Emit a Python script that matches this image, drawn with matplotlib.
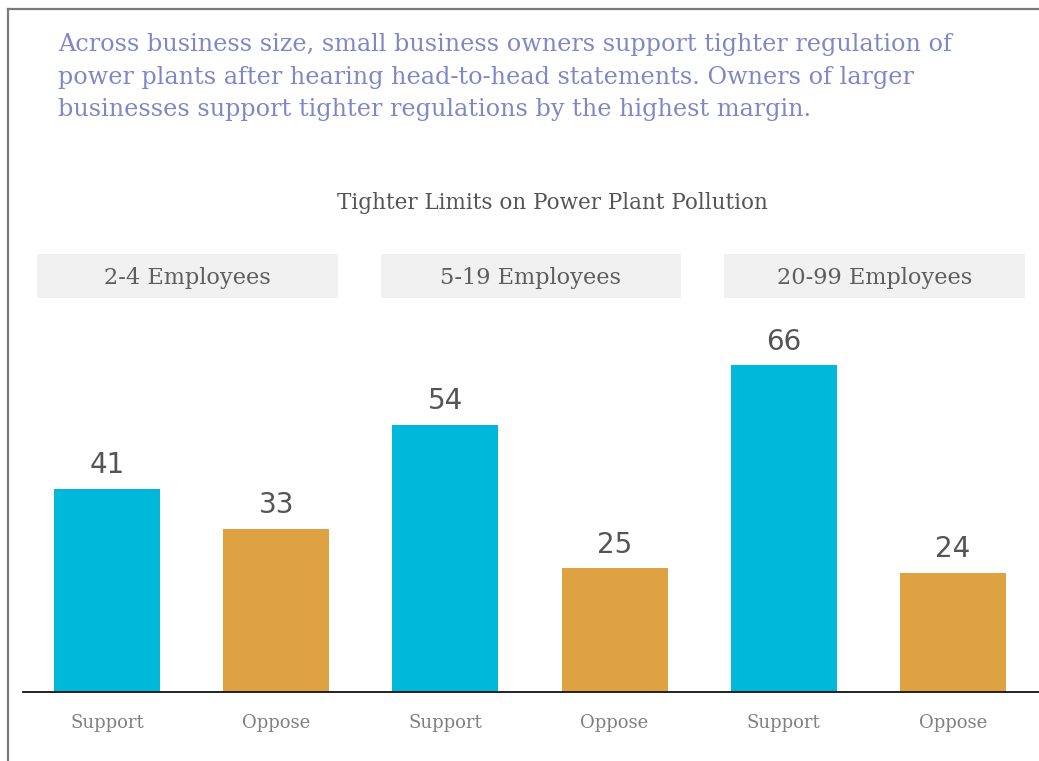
import matplotlib.pyplot as plt
from matplotlib.lines import Line2D
from matplotlib.patches import Rectangle

# 数据
groups = ['2-4 Employees', '5-19 Employees', '20-99 Employees']
answers = ['Support', 'Oppose']
support = [41, 54, 66]
oppose = [33, 25, 24]

headline = ('Across business size, small business owners support tighter regulation of\n'
            'power plants after hearing head-to-head statements. Owners of larger\n'
            'businesses support tighter regulations by the highest margin.')
chart_title = 'Tighter Limits on Power Plant Pollution'

blue = '#00b9da'
gold = '#dea243'
serif = ['DejaVu Serif']

W, H = 1039, 761
fig = plt.figure(figsize=(W / 100, H / 100), dpi=100)

# 外框（左边和上边）
fig.add_artist(Line2D([8 / W, 8 / W], [0, 1 - 9 / H], color='#7a7a7a', lw=1.6))
fig.add_artist(Line2D([8 / W, 1], [1 - 9 / H, 1 - 9 / H], color='#7a7a7a', lw=1.6))

fig.text(58 / W, 1 - 33 / H, headline, ha='left', va='top', family=serif,
         fontsize=17.2, color='#7f87c7', linespacing=1.54)
fig.text(552 / W, 1 - 203 / H, chart_title, ha='center', va='center',
         family=serif, fontsize=15.5, color='#555555')

ax = fig.add_axes([23 / W, 69 / H, 1 - 23 / W, 438 / H])

vals = []
cols = []
labels = []
for s, o in zip(support, oppose):
    vals += [s, o]
    cols += [blue, gold]
    labels += answers
x = list(range(len(vals)))

bars = ax.bar(x, vals, width=0.627, color=cols)
for b, v in zip(bars, vals):
    ax.annotate(str(v), (b.get_x() + b.get_width() / 2, v), xytext=(0, 7),
                textcoords='offset points', ha='center', va='bottom',
                fontsize=20, color='#555555', family='DejaVu Sans')

# 分组标题
for g, name in enumerate(groups):
    c = 0.476 + 2.03 * g
    ax.add_patch(Rectangle((c - 0.889, 0.9), 1.778, 0.1, transform=ax.get_xaxis_transform(),
                           facecolor='#f1f1f1', edgecolor='none', clip_on=False))
    ax.text(c, 0.946, name, transform=ax.get_xaxis_transform(), ha='center', va='center',
            family=serif, fontsize=16.2, color='#5e5e5e')

ax.set_xlim(-0.496, 5.508)
ax.set_ylim(0, 438 / 4.95)
ax.set_xticks(x)
ax.set_xticklabels(labels, family=serif, fontsize=13, color='#808080')
ax.tick_params(axis='x', length=0, pad=16)
ax.set_yticks([])
for side in ['top', 'right', 'left']:
    ax.spines[side].set_visible(False)
ax.spines['bottom'].set_color('#111111')
ax.spines['bottom'].set_linewidth(1.3)

plt.savefig('out.png', dpi=100)
